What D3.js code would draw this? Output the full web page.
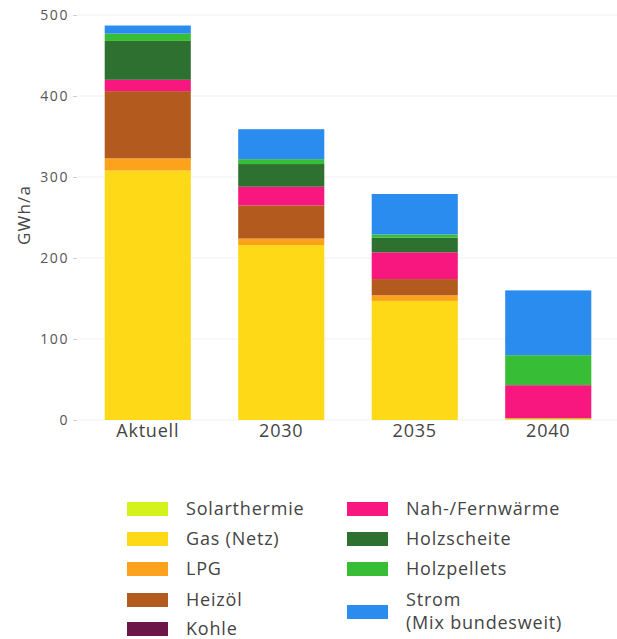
<!DOCTYPE html>
<html>
<head>
<meta charset="utf-8">
<script src="https://cdn.jsdelivr.net/npm/d3@7"></script>
<style>
  body { margin: 0; background: #fff; }
  svg { display: block; font-family: "Open Sans", sans-serif; }
</style>
</head>
<body>
<svg id="chart" width="617" height="639"></svg>
<script>
// chart data
var categories = ["Aktuell", "2030", "2035", "2040"];
var carriers = ["Solarthermie", "Gas (Netz)", "LPG", "Heizöl", "Kohle",
                "Nah-/Fernwärme", "Holzscheite", "Holzpellets", "Strom (Mix bundesweit)"];
var colors = ["#d4f21c", "#fed918", "#fca21c", "#b35b1e", "#6b1646",
              "#f8177f", "#2e702f", "#38bd36", "#2a8cee"];

var solarthermie = [0, 0, 0, 2];
var gas          = [308, 216, 147, 0];
var lpg          = [15, 8, 7, 0];
var heizoel      = [83, 41, 20, 0];
var kohle        = [0, 0, 0, 0];
var fernwaerme   = [14, 23, 33, 41];
var holzscheite  = [48, 28, 18, 0];
var holzpellets  = [9, 6, 4, 37];
var strom        = [10, 37, 50, 80];

var yTicks = [0, 100, 200, 300, 400, 500];

var series = [solarthermie, gas, lpg, heizoel, kohle, fernwaerme, holzscheite, holzpellets, strom];

var rows = categories.map(function(c, i) {
    var r = { cat: c };
    carriers.forEach(function(k, j) { r[k] = series[j][i]; });
    return r;
});

var svg = d3.select("#chart");

var x = d3.scaleBand()
    .domain(categories)
    .range([78, 618])
    .paddingInner(0.355)
    .paddingOuter(0.2);

var y = d3.scaleLinear()
    .domain([0, 500])
    .range([420, 15]);

var color = d3.scaleOrdinal().domain(carriers).range(colors);

// grid
svg.append("g")
    .selectAll("line")
    .data(yTicks)
    .join("line")
    .attr("x1", 78)
    .attr("x2", 617)
    .attr("y1", function(d) { return y(d); })
    .attr("y2", function(d) { return y(d); })
    .attr("stroke", "#f1f1f1")
    .attr("stroke-width", 1);

var stacked = d3.stack().keys(carriers)(rows);

svg.append("g")
    .selectAll("g")
    .data(stacked)
    .join("g")
    .attr("fill", function(d) { return color(d.key); })
    .selectAll("rect")
    .data(function(d) { return d; })
    .join("rect")
    .attr("x", function(d) { return x(d.data.cat); })
    .attr("width", x.bandwidth())
    .attr("y", function(d) { return y(d[1]); })
    .attr("height", function(d) { return y(d[0]) - y(d[1]); });

// y axis
var yAxis = svg.append("g")
    .attr("transform", "translate(77,0)")
    .call(d3.axisLeft(y).tickValues(yTicks).tickSize(4).tickPadding(4));
yAxis.select(".domain").remove();
yAxis.selectAll(".tick line").attr("stroke", "#cfcfcf");
yAxis.selectAll(".tick text")
    .attr("fill", "#555")
    .style("font-size", "14px")
    .style("letter-spacing", "1.6px")
    .style("font-family", "'Open Sans', sans-serif");

// x axis
var xAxis = svg.append("g")
    .attr("transform", "translate(0,420)")
    .call(d3.axisBottom(x).tickSize(0).tickPadding(4));
xAxis.select(".domain").remove();
xAxis.selectAll(".tick text")
    .attr("fill", "#444")
    .style("font-size", "18px")
    .style("letter-spacing", "0.8px")
    .style("font-family", "'Open Sans', sans-serif");

svg.append("text")
    .attr("transform", "translate(30,215) rotate(-90)")
    .attr("text-anchor", "middle")
    .attr("fill", "#444")
    .style("font-size", "17px")
    .style("letter-spacing", "1.2px")
    .text("GWh/a");

// legend
var legendPos = [
    [127, 509], [127, 539], [127, 569], [127, 600], [127, 629],
    [347, 509], [347, 539], [347, 569], [347, 612]
];

var leg = svg.append("g")
    .selectAll("g")
    .data(carriers)
    .join("g")
    .attr("transform", function(d, i) {
        return "translate(" + legendPos[i][0] + "," + legendPos[i][1] + ")";
    });

leg.append("rect")
    .attr("x", 0)
    .attr("y", -7)
    .attr("width", 41)
    .attr("height", 14)
    .attr("fill", function(d) { return color(d); });

leg.each(function(d) {
    var parts = d === "Strom (Mix bundesweit)" ? ["Strom", "(Mix bundesweit)"] : [d];
    var g = d3.select(this);
    parts.forEach(function(p, k) {
        var off = parts.length === 1 ? 0 : (k === 0 ? -12 : 11);
        g.append("text")
            .attr("x", 59)
            .attr("y", off)
            .attr("dy", "0.35em")
            .attr("fill", "#444")
            .style("font-size", "18px")
            .style("letter-spacing", "0.8px")
            .text(p);
    });
});
</script>
</body>
</html>
